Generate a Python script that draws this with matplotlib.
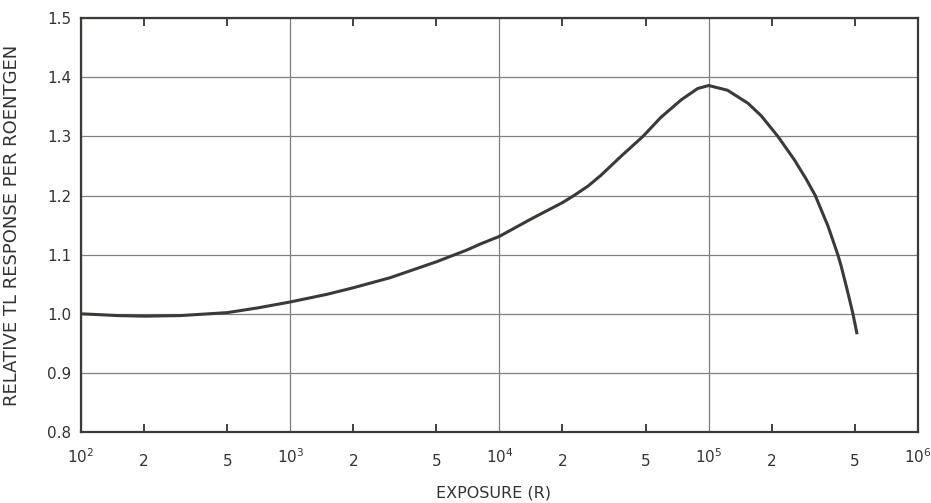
import matplotlib
matplotlib.use("Agg")
import matplotlib.pyplot as plt
from matplotlib.ticker import FixedLocator, FixedFormatter

# values
exposure = [100, 150, 200, 300, 500, 700, 1000, 1500, 2000, 3000, 5000, 7000,
            8100, 1e4, 1.41e4, 2e4, 2.27e4, 2.65e4, 3.05e4, 3.8e4, 4.85e4, 5.9e4,
            7.4e4, 8.86e4, 1e5, 1.23e5, 1.54e5, 1.78e5, 2.14e5, 2.57e5, 2.92e5,
            3.23e5, 3.57e5, 3.71e5, 4.14e5, 4.30e5, 4.54e5, 4.71e5, 4.89e5, 5.1e5]
response = [1.000, 0.997, 0.996, 0.997, 1.002, 1.010, 1.020, 1.033, 1.044, 1.061,
            1.088, 1.108, 1.118, 1.131, 1.160, 1.188, 1.200, 1.216, 1.234, 1.266,
            1.300, 1.332, 1.362, 1.381, 1.386, 1.378, 1.356, 1.335, 1.300, 1.260,
            1.228, 1.200, 1.163, 1.149, 1.100, 1.080, 1.047, 1.024, 1.000, 0.968]

major_x = [1e2, 1e3, 1e4, 1e5, 1e6]
major_lbl = ["$10^{2}$", "$10^{3}$", "$10^{4}$", "$10^{5}$", "$10^{6}$"]
minor_x = [2e2, 5e2, 2e3, 5e3, 2e4, 5e4, 2e5, 5e5]
minor_lbl = ["2", "5", "2", "5", "2", "5", "2", "5"]
y_ticks = [0.8, 0.9, 1.0, 1.1, 1.2, 1.3, 1.4, 1.5]
y_lbl = ["0.8", "0.9", "1.0", "1.1", "1.2", "1.3", "1.4", "1.5"]

ink = "#333333"
fig = plt.figure(figsize=(9.31, 5.03), dpi=100)
ax = fig.add_axes([0.087, 0.141, 0.899, 0.823])

ax.plot(exposure, response, color="#3a3a36", lw=2.2, solid_joinstyle="round")

ax.set_xscale("log")
ax.set_xlim(1e2, 1e6)
ax.set_ylim(0.8, 1.5)

ax.xaxis.set_major_locator(FixedLocator(major_x))
ax.xaxis.set_major_formatter(FixedFormatter(major_lbl))
ax.xaxis.set_minor_locator(FixedLocator(minor_x))
ax.xaxis.set_minor_formatter(FixedFormatter(minor_lbl))
ax.set_yticks(y_ticks)
ax.set_yticklabels(y_lbl)

ax.grid(True, which="major", axis="both", color="#808080", lw=0.9)
ax.set_axisbelow(True)

ax.tick_params(axis="x", which="major", direction="in", length=0, pad=11,
               labelsize=11, colors=ink, top=False)
ax.tick_params(axis="x", which="minor", direction="in", length=6, width=1.3,
               pad=16, labelsize=11, colors=ink, top=True)
ax.tick_params(axis="y", which="major", direction="in", length=0, pad=7,
               labelsize=11, colors=ink)

for s in ax.spines.values():
    s.set_color("#3a3a36")
    s.set_linewidth(1.6)

ax.set_xlabel("EXPOSURE (R)", fontsize=11.5, color=ink)
ax.xaxis.set_label_coords(0.493, -0.128)
ax.set_ylabel("RELATIVE TL RESPONSE PER ROENTGEN", fontsize=13, color=ink)
ax.yaxis.set_label_coords(-0.082, 0.5)
ax.yaxis.label.set_va("center")

fig.savefig("out.png", dpi=100)
